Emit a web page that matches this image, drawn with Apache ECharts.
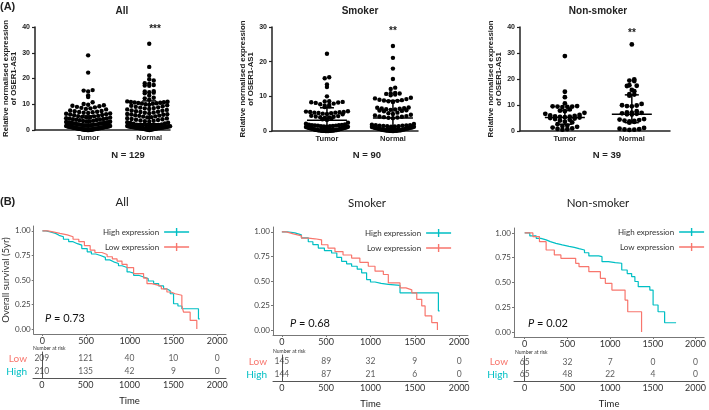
<!DOCTYPE html>
<html><head><meta charset="utf-8">
<script src="https://cdn.jsdelivr.net/npm/echarts@6/dist/echarts.min.js"></script>
<style>html,body{margin:0;padding:0;background:#fff}#c{width:709px;height:410px}</style>
</head><body><div id="c"></div><script>
// ---------- DATA ----------
const groups = ['Tumor', 'Normal'];
const scatterTitles = ['All', 'Smoker', 'Non-smoker'];
const sampleSizes = ['N = 129', 'N = 90', 'N = 39'];
const stars = ['***', '**', '**'];
const yMaxTop = [40, 30, 40];
const yTickInterval = [10, 10, 10];

const allTumor = [29.0, 22.3, 15.5, 15.3, 15.0, 13.4, 12.8, 10.8,
  10.1, 9.8, 9.6, 9.4, 9.2, 9.0, 8.8, 8.6, 8.4, 8.2, 8.0,
  7.6, 7.4, 7.3, 7.1, 7.0, 6.9, 6.7, 6.6, 6.4, 6.3, 6.1, 6.0,
  5.8, 5.7, 5.5, 5.4, 5.3, 5.1, 5.0, 4.9, 4.8, 4.6, 4.5, 4.4, 4.3,
  4.2, 4.1, 4.0, 3.9, 3.8, 3.6, 3.5, 3.4, 3.3, 3.2, 3.1, 3.0, 2.9, 2.9, 2.8,
  2.7, 2.7, 2.6, 2.5, 2.5, 2.4, 2.4, 2.3, 2.2, 2.2, 2.1, 2.0, 2.0, 1.9, 1.9, 1.8, 1.8, 1.7, 1.7, 1.6, 1.6, 1.5, 1.5, 1.4, 1.4,
  1.35, 1.3, 1.3, 1.25, 1.2, 1.2, 1.15, 1.1, 1.1, 1.05, 1.0, 1.0, 0.95, 0.9, 0.9, 0.85, 0.8, 0.8, 0.75, 0.7,
  0.7, 0.65, 0.6, 0.6, 0.55, 0.5, 0.5, 0.45, 0.4, 0.4, 0.35, 0.3, 0.3, 0.25, 0.2, 0.2, 0.15, 0.1, 0.1, 0.05,
  0.05, 0.03, 0.02, 0.01, 0.01];
const allNormal = [33.5, 24.5, 21.2, 19.7, 19.2, 18.2, 18.0, 17.5, 17.3, 17.2, 15.1, 15.0, 14.7, 14.5, 14.3, 13.4, 12.5, 12.3, 11.8,
  11.2, 11.1, 11.0, 10.9, 10.8, 10.7, 10.6, 10.5, 10.4, 10.3, 10.2, 10.0,
  9.8, 9.6, 9.4, 9.2, 9.0, 8.8, 8.7, 8.5, 8.4, 8.2, 8.1, 8.0,
  7.8, 7.6, 7.5, 7.3, 7.1, 7.0, 6.8, 6.7, 6.5, 6.4, 6.2, 6.1, 6.0,
  5.9, 5.7, 5.6, 5.5, 5.3, 5.2, 5.0, 4.9, 4.8, 4.6, 4.5, 4.3, 4.2, 4.0,
  3.9, 3.7, 3.6, 3.4, 3.3, 3.1, 3.0, 2.8, 2.7, 2.5, 2.4, 2.2, 2.1, 2.0,
  1.9, 1.85, 1.8, 1.75, 1.7, 1.65, 1.6, 1.55, 1.5, 1.45, 1.4, 1.35, 1.3, 1.25, 1.2, 1.2, 1.15, 1.1, 1.1, 1.05,
  1.0, 1.0, 0.95, 0.9, 0.9, 0.85, 0.8, 0.8, 0.75, 0.7, 0.7, 0.65, 0.6, 0.55, 0.5, 0.45, 0.4, 0.35, 0.3, 0.25,
  0.2, 0.15, 0.1, 0.05, 0.02];
const smokerTumor = [22.3, 15.5, 15.2, 13.4, 12.7, 10.0,
  8.6, 8.5, 8.4, 8.3, 8.2, 8.1, 7.9, 7.7, 7.5, 7.3, 7.1, 6.9,
  5.7, 5.6, 5.5, 5.5, 5.4, 5.3, 5.3, 5.2, 5.1, 5.0, 4.9, 4.8,
  4.4, 4.3, 4.2, 4.1, 4.0, 3.9, 3.8, 3.6, 3.4, 3.2,
  2.4, 2.1, 1.9, 1.8, 1.75, 1.7, 1.65, 1.6, 1.55, 1.5, 1.45, 1.4, 1.35, 1.3, 1.25, 1.2, 1.15, 1.1, 1.05, 1.0,
  0.95, 0.9, 0.85, 0.8, 0.75, 0.7, 0.65, 0.6, 0.55, 0.5, 0.45, 0.4, 0.35, 0.3, 0.28, 0.25, 0.22, 0.2, 0.18, 0.15,
  0.12, 0.1, 0.08, 0.06, 0.05, 0.04, 0.03, 0.02, 0.01, 0.01];
const smokerNormal = [24.5, 21.1, 18.0, 15.0, 12.5, 12.1,
  11.0, 10.9, 10.8, 10.7, 10.5, 10.3,
  9.6, 9.4, 9.2, 9.0, 8.9, 8.8, 8.7, 8.6, 8.5, 8.4,
  6.8, 6.7, 6.6, 6.5, 6.4, 6.3, 6.2, 6.1, 6.0, 5.9, 5.8, 5.7,
  5.3, 5.1, 4.9, 4.7, 4.5, 4.3, 4.2, 4.1, 4.0, 3.9, 3.8, 3.7,
  2.0, 1.8, 1.7, 1.65, 1.6, 1.55, 1.5, 1.45, 1.4, 1.35, 1.3, 1.25, 1.2, 1.15, 1.1, 1.05, 1.0, 0.95, 0.9, 0.85,
  0.8, 0.75, 0.7, 0.65, 0.6, 0.55, 0.5, 0.45, 0.4, 0.35, 0.3, 0.25, 0.22, 0.2, 0.18, 0.15, 0.12, 0.1, 0.08, 0.06,
  0.04, 0.03, 0.02, 0.01];
const nonSmokerTumor = [28.8, 15.1, 13.0, 10.6, 9.6, 9.5, 9.4, 9.3, 9.2, 9.4, 8.3, 7.8, 7.6, 7.0, 6.6,
  6.2, 6.0, 5.8, 5.6, 5.5, 5.4, 5.3, 5.2, 5.0, 4.8, 4.6, 4.3, 4.0, 3.6, 3.3,
  2.6, 2.1, 1.9, 1.6, 1.3, 1.0, 0.8, 0.7, 0.5];
const nonSmokerNormal = [33.3, 19.8, 19.4, 19.2, 17.6, 17.4, 17.3, 15.8, 15.3, 14.2, 14.0, 13.6,
  10.4, 9.9, 9.8, 9.6, 9.5, 7.6, 7.2, 7.1, 7.0, 6.8, 6.6, 6.4, 6.3,
  4.6, 4.4, 4.2, 4.0, 3.9, 3.7, 3.5, 3.2, 1.2, 0.9, 0.7, 0.6, 0.5, 0.4];

const medians = [[2.2, 2.4], [3.1, 3.75], [5.2, 6.45]];
const lowerQ = [[0.8, 0.9], [0.7, 0.8], [2.6, 3.2]];
const upperQ = [[5.5, 11.3], [6.7, 8.75], [8.0, 13.9]];

const kmTitles = ['All', 'Smoker', 'Non-smoker'];
const pValues = ['0.73', '0.68', '0.02'];
const allHighT = [0,40,90,150,190,240,300,350,400,450,512,560,610,664,720,770,815,870,911,968,1000,1043,1100,1157,1210,1272,1330,1386,1420,1462,1500,1550,1595,1785,1800];
const allHighS = [1.0,0.99,0.975,0.955,0.94,0.915,0.89,0.87,0.855,0.82,0.787,0.765,0.75,0.73,0.705,0.685,0.668,0.645,0.627,0.582,0.57,0.548,0.53,0.514,0.49,0.463,0.44,0.41,0.39,0.36,0.258,0.235,0.207,0.104,0.104];
const allLowT = [0,60,120,200,284,350,416,480,546,600,680,740,800,854,910,968,1043,1157,1196,1250,1310,1360,1424,1470,1519,1595,1614,1690,1766];
const allLowS = [1.0,0.99,0.975,0.96,0.94,0.915,0.89,0.85,0.805,0.78,0.76,0.737,0.715,0.693,0.66,0.627,0.565,0.52,0.463,0.45,0.435,0.41,0.378,0.36,0.345,0.24,0.172,0.088,0.0];
const smokerHighT = [0,60,147,220,298,350,411,480,561,620,674,730,787,850,900,956,1000,1051,1120,1201,1333,1766,1780];
const smokerHighS = [1.0,0.99,0.97,0.94,0.90,0.87,0.835,0.81,0.785,0.74,0.70,0.675,0.65,0.62,0.583,0.515,0.49,0.475,0.465,0.455,0.38,0.195,0.195];
const smokerLowT = [0,50,130,222,300,373,448,520,599,690,787,880,975,1051,1145,1201,1333,1400,1466,1522,1578,1616,1691,1755];
const smokerLowS = [1.0,0.98,0.96,0.936,0.93,0.919,0.869,0.835,0.80,0.765,0.734,0.69,0.65,0.60,0.566,0.48,0.43,0.41,0.38,0.313,0.246,0.145,0.077,0.0];
const nonSmokerHighT = [0,60,135,190,251,300,366,440,520,580,636,700,751,867,905,980,1060,1136,1200,1252,1290,1329,1465,1503,1561,1638,1772];
const nonSmokerHighS = [1.0,0.97,0.946,0.93,0.912,0.895,0.879,0.865,0.855,0.842,0.828,0.8,0.768,0.761,0.71,0.7,0.694,0.626,0.59,0.559,0.51,0.458,0.424,0.273,0.205,0.094,0.094];
const nonSmokerLowT = [0,96,173,251,347,424,597,636,751,886,944,1021,1175,1206,1368];
const nonSmokerLowS = [1.0,0.963,0.912,0.828,0.778,0.744,0.694,0.66,0.609,0.542,0.492,0.424,0.323,0.205,0.0];

const riskTimes = [0, 500, 1000, 1500, 2000];
const riskAllLow = [209, 121, 40, 10, 0];
const riskAllHigh = [210, 135, 42, 9, 0];
const riskSmokerLow = [145, 89, 32, 9, 0];
const riskSmokerHigh = [144, 87, 21, 6, 0];
const riskNonSmokerLow = [65, 32, 7, 0, 0];
const riskNonSmokerHigh = [65, 48, 22, 4, 0];
const kmTicks = [0, 500, 1000, 1500, 2000];
const survTicks = [0, 0.25, 0.5, 0.75, 1];

// ---------- LAYOUT / STYLE ----------
const topFont = "'Liberation Sans', Arial, sans-serif";
const kmFont = "Lato, 'Open Sans', sans-serif";
const RED = '#F8766D', CYAN = '#00BFC4';
const topGrids = [
  {left: 35, top: 27, width: 135, height: 103, xmin: 0.13, xmax: 2.34, dot: 4.4, half: 22},
  {left: 272, top: 27, width: 146, height: 104, xmin: 0.167, xmax: 2.38, dot: 4.4, half: 21},
  {left: 520, top: 27, width: 150, height: 104, xmin: 0.33, xmax: 2.57, dot: 4.8, half: 21}
];
const kmGrids = [
  {left: 33, top: 226, width: 193, height: 108, xmin: -100, xmax: 2100},
  {left: 273, top: 227, width: 195, height: 108, xmin: -100, xmax: 2100},
  {left: 514, top: 228, width: 192, height: 109, xmin: -125, xmax: 2100}
];
const riskGrids = [{top: 352, height: 26}, {top: 355, height: 26}, {top: 356, height: 25}];

const scatterSets = [[allTumor, allNormal], [smokerTumor, smokerNormal], [nonSmokerTumor, nonSmokerNormal]];
const kmSets = [
  [[allHighT, allHighS], [allLowT, allLowS]],
  [[smokerHighT, smokerHighS], [smokerLowT, smokerLowS]],
  [[nonSmokerHighT, nonSmokerHighS], [nonSmokerLowT, nonSmokerLowS]]
];
const riskSets = [[riskAllLow, riskAllHigh], [riskSmokerLow, riskSmokerHigh], [riskNonSmokerLow, riskNonSmokerHigh]];

// GraphPad-like row layout: bin values into rows one dot high, spread each row
// horizontally with lowest values in the middle (pixel offsets)
function rowSpread(values, yPx, dot, maxHalf) {
  const rowH = dot * 0.95;
  const rows = {};
  values.forEach((v, i) => { const k = Math.floor(v * yPx / rowH); (rows[k] = rows[k] || []).push(i); });
  const offs = new Array(values.length).fill(0);
  Object.keys(rows).forEach(k => {
    const idx = rows[k].slice().sort((a, b) => values[a] - values[b]);
    const n = idx.length;
    const s = n > 1 ? Math.min(dot * 1.02, 2 * maxHalf / (n - 1)) : 0;
    const pos = [];
    for (let j = 0; j < n; j++) pos.push((j - (n - 1) / 2) * s);
    pos.sort((a, b) => (Math.abs(a) - Math.abs(b)) || (a - b));
    idx.forEach((id, j) => { offs[id] = pos[j]; });
  });
  return offs;
}

function statsRender(params, api) {
  const x = api.value(0), m = api.value(1), lo = api.value(2), hi = api.value(3);
  const ux = api.size([1, 0])[0];
  const mh = 20 / ux, ch = 7 / ux;
  const seg = (a, b) => ({type: 'line', shape: {x1: a[0], y1: a[1], x2: b[0], y2: b[1]}, style: {stroke: '#000', lineWidth: 1.5}});
  return {type: 'group', children: [
    seg(api.coord([x - mh, m]), api.coord([x + mh, m])),
    seg(api.coord([x, lo]), api.coord([x, hi])),
    seg(api.coord([x - ch, lo]), api.coord([x + ch, lo])),
    seg(api.coord([x - ch, hi]), api.coord([x + ch, hi]))
  ]};
}

const grid = [], xAxis = [], yAxis = [], series = [], legend = [];

// top scatter panels
topGrids.forEach((g, i) => {
  grid.push({left: g.left, top: g.top, width: g.width, height: g.height});
  xAxis.push({type: 'value', gridIndex: i, min: g.xmin, max: g.xmax,
    axisLine: {show: true, onZero: false, lineStyle: {color: '#222', width: 1.5}},
    axisTick: {show: false}, splitLine: {show: false},
    axisLabel: {customValues: [1, 2], formatter: v => groups[Math.round(v) - 1] || '',
      fontFamily: topFont, fontWeight: 'bold', fontSize: 7.5, color: '#222', margin: 4}});
  yAxis.push({type: 'value', gridIndex: i, min: 0, max: yMaxTop[i], interval: yTickInterval[i],
    axisLine: {show: true, lineStyle: {color: '#222', width: 1.5}},
    axisTick: {show: true, length: 3, lineStyle: {color: '#222', width: 1.2}},
    splitLine: {show: false},
    axisLabel: {fontFamily: topFont, fontWeight: 'bold', fontSize: 7, color: '#222', margin: 5},
    name: 'Relative normalised expression\nof OSER1-AS1', nameLocation: 'middle', nameGap: 9, nameRotate: 90,
    nameTextStyle: {fontFamily: topFont, fontWeight: 'bold', fontSize: 7.8, lineHeight: 8.5, color: '#222'}});
  const yPx = g.height / yMaxTop[i];
  const xPx = g.width / (g.xmax - g.xmin);
  const pts = [];
  scatterSets[i].forEach((vals, gi) => {
    const offs = rowSpread(vals, yPx, g.dot, g.half);
    vals.forEach((v, k) => pts.push([gi + 1 + offs[k] / xPx, v]));
  });
  series.push({type: 'scatter', xAxisIndex: i, yAxisIndex: i, data: pts, symbolSize: g.dot,
    itemStyle: {color: '#000', opacity: 1}, silent: true, animation: false});
  series.push({type: 'custom', xAxisIndex: i, yAxisIndex: i, renderItem: statsRender, silent: true,
    encode: {x: 0, y: [1, 2, 3]}, z: 5, animation: false,
    data: [0, 1].map(gi => [gi + 1, medians[i][gi], lowerQ[i][gi], upperQ[i][gi]])});
});

// KM panels
kmGrids.forEach((g, i) => {
  const ai = 3 + i;
  grid.push({left: g.left, top: g.top, width: g.width, height: g.height});
  xAxis.push({type: 'value', gridIndex: ai, min: g.xmin, max: g.xmax,
    axisLine: {show: true, onZero: false, lineStyle: {color: '#777', width: 1}},
    axisTick: {show: true, customValues: kmTicks, length: 2, lineStyle: {color: '#777'}},
    splitLine: {show: false},
    axisLabel: {customValues: kmTicks, formatter: v => String(v), fontFamily: kmFont, fontSize: 9, color: '#333', margin: 3}});
  yAxis.push(Object.assign({type: 'value', gridIndex: ai, min: -0.05, max: 1.05,
    axisLine: {show: true, onZero: false, lineStyle: {color: '#777', width: 1}},
    axisTick: {show: true, customValues: survTicks, length: 2, lineStyle: {color: '#777'}},
    splitLine: {show: false},
    axisLabel: {customValues: survTicks, formatter: v => v.toFixed(2), fontFamily: kmFont, fontSize: 8, color: '#444', margin: 3}},
    i === 0 ? {name: 'Overall survival (5yr)', nameLocation: 'middle', nameGap: 22, nameRotate: 90,
      nameTextStyle: {fontFamily: kmFont, fontSize: 9.5, color: '#333'}} : {}));
  const names = ['High expression', 'Low expression'];
  const cols = [CYAN, RED];
  kmSets[i].forEach((tv, si) => {
    series.push({type: 'line', name: names[si], xAxisIndex: ai, yAxisIndex: ai, step: 'end',
      data: tv[0].map((t, k) => [t, tv[1][k]]), showSymbol: false, color: cols[si],
      lineStyle: {color: cols[si], width: 1.2}, silent: true, animation: false});
  });
});
const legendPos = [{left: 98, top: 222}, {left: 360, top: 223}, {left: 613, top: 222}];
legendPos.forEach(p => legend.push({left: p.left, top: p.top, orient: 'vertical', align: 'right',
  itemWidth: 25, itemHeight: 8, itemGap: 5, selectedMode: false,
  icon: 'path://M0,3.3H25V4.7H0Z M11.8,0H13.2V8H11.8Z',
  textStyle: {fontFamily: kmFont, fontSize: 8, color: '#333', lineHeight: 10},
  data: ['High expression', 'Low expression']}));

// risk tables
riskGrids.forEach((r, i) => {
  const ai = 6 + i;
  const g = kmGrids[i];
  grid.push({left: g.left, top: r.top, width: g.width, height: r.height});
  xAxis.push({type: 'value', gridIndex: ai, min: g.xmin, max: g.xmax,
    axisLine: {show: true, onZero: false, lineStyle: {color: '#555', width: 1}},
    axisTick: {show: false}, splitLine: {show: false},
    axisLabel: {customValues: kmTicks, formatter: v => String(v), fontFamily: kmFont, fontSize: 9, color: '#333', margin: 3},
    name: 'Time', nameLocation: 'middle', nameGap: 18,
    nameTextStyle: {fontFamily: kmFont, fontSize: 9.5, color: '#222'}});
  yAxis.push({type: 'category', gridIndex: ai, data: ['High', 'Low'],
    axisLine: {show: true, lineStyle: {color: '#555', width: 1}},
    axisTick: {show: false}, splitLine: {show: false},
    axisLabel: {interval: 0, hideOverlap: false, margin: 6, formatter: v => '{' + v + '|' + v + '}',
      rich: {Low: {color: RED, fontFamily: kmFont, fontSize: 10}, High: {color: CYAN, fontFamily: kmFont, fontSize: 10}}}});
  const pts = [];
  riskTimes.forEach((t, j) => { pts.push([t, 'Low', riskSets[i][0][j]]); pts.push([t, 'High', riskSets[i][1][j]]); });
  series.push({type: 'scatter', xAxisIndex: ai, yAxisIndex: ai, data: pts, symbolSize: 1,
    itemStyle: {color: 'rgba(0,0,0,0)'}, silent: true, animation: false,
    label: {show: true, position: 'inside', formatter: p => String(p.value[2]),
      fontFamily: kmFont, fontSize: 8.5, color: '#333'}});
});

// text elements
const T = (text, x, y, st) => ({type: 'text', x: x, y: y, silent: true,
  style: Object.assign({text: text, fill: '#222', align: 'center', verticalAlign: 'middle'}, st)});
const bold = (fs) => ({fontFamily: topFont, fontWeight: 'bold', fontSize: fs});
const graphic = [
  T('(A)', 0, 7, Object.assign({align: 'left'}, bold(11))),
  T('(B)', 0, 202, Object.assign({align: 'left'}, bold(11)))
];
const topTitlePos = [[122, 11], [360, 11], [598, 11]];
const nPos = [[128, 155], [367, 155], [607, 155]];
const starPos = [[155, 29], [393, 31], [632, 33]];
scatterTitles.forEach((t, i) => {
  graphic.push(T(t, topTitlePos[i][0], topTitlePos[i][1], bold(10)));
  graphic.push(T(sampleSizes[i], nPos[i][0], nPos[i][1], bold(9.5)));
  graphic.push(T(stars[i], starPos[i][0], starPos[i][1], bold(10)));
});
const kmTitlePos = [[122, 202], [367, 203], [598, 203]];
const pPos = [[45, 318], [290, 323], [528, 323]];
const narPos = [[33, 348], [273, 351], [515, 352]];
kmTitles.forEach((t, i) => {
  graphic.push(T(t, kmTitlePos[i][0], kmTitlePos[i][1], {fontFamily: kmFont, fontSize: 11.5, fill: '#222'}));
  graphic.push(T('{i|P} = ' + pValues[i], pPos[i][0], pPos[i][1], {align: 'left', fontFamily: kmFont, fontSize: 11, fill: '#111',
    rich: {i: {fontStyle: 'italic', fontFamily: kmFont, fontSize: 11, fill: '#111'}}}));
  graphic.push(T('Number at risk', narPos[i][0], narPos[i][1], {align: 'left', fontFamily: kmFont, fontSize: 5, fill: '#333'}));
});

const chart = echarts.init(document.getElementById('c'), null, {renderer: 'canvas'});
chart.setOption({backgroundColor: '#fff', animation: false, grid, xAxis, yAxis, series, legend, graphic});
</script></body></html>
